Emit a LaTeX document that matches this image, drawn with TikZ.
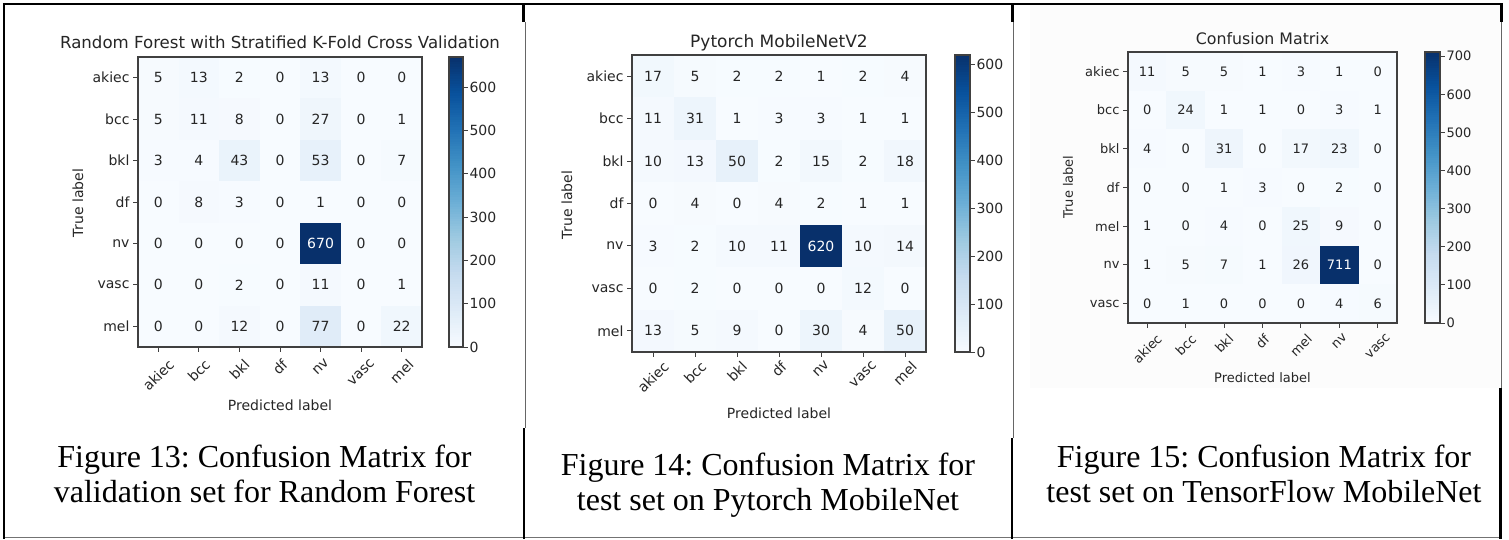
\documentclass[tikz,border=0pt]{standalone}
\usepackage{fontspec}
\setmainfont{Liberation Serif}
\newfontfamily\plotfont{DejaVu Sans}
\usepackage{graphicx}
\frenchspacing
\definecolor{B0}{HTML}{F7FBFF}
\definecolor{B1}{HTML}{DEEBF7}
\definecolor{B2}{HTML}{C6DBEF}
\definecolor{B3}{HTML}{9ECAE1}
\definecolor{B4}{HTML}{6BAED6}
\definecolor{B5}{HTML}{4292C6}
\definecolor{B6}{HTML}{2171B5}
\definecolor{B7}{HTML}{08519C}
\definecolor{B8}{HTML}{08306B}
\newcommand\setcmcolor[2]{%
  \pgfmathsetmacro\cmt{min(8*((#1)/(#2)),8)}%
  \pgfmathtruncatemacro\cmi{min(floor(\cmt),7)}%
  \pgfmathtruncatemacro\cmj{\cmi+1}%
  \pgfmathsetmacro\cmp{max(0,min(100,100*(\cmj-\cmt)))}%
  \colorlet{cellc}{B\cmi!\cmp!B\cmj}%
}
\tikzset{
  tickmark/.style={draw=black!75, line width=1pt},
  axframe/.style={draw=black!75, line width=1.1pt},
  tblthick/.style={draw=black, line width=2.3pt},
  tblthin/.style={draw=black!60, line width=1pt},
}
% #1 prefix, #2 labels, #3 data, #4 colorbar ticks, #5 title, #6 font size
\newcommand\cmpanel[6]{%
  \pgfmathsetmacro\cw{(\R-\L)/7}%
  \pgfmathsetmacro\ch{(\B-\T)/7}%
  \pgfmathsetmacro\cx{(\L+\R)/2}%
  \foreach \row [count=\i from 0] in {#3} {%
    \foreach \v [count=\j from 0] in \row {%
      \setcmcolor{\v}{\vmax}%
      \pgfmathtruncatemacro\isdark{\v>(\vmax/2)}%
      \ifnum\isdark=1 \def\tc{white}\else\def\tc{black!85}\fi
      \fill[cellc] (\L+\j*\cw,\T+\i*\ch) rectangle (\L+\j*\cw+\cw+0.4,\T+\i*\ch+\ch+0.4);
      \node[text=\tc, font=\plotfont\fontsize{#6}{#6}\selectfont] (#1-\i-\j) at (\L+\j*\cw+\cw/2,\T+\i*\ch+\ch/2) {\v};
    }
  }
  \draw[axframe] (\L,\T) rectangle (\R,\B);
  \foreach \lab [count=\i from 0] in {#2} {%
    \pgfmathsetmacro\yy{\T+\i*\ch+\ch/2}%
    \pgfmathsetmacro\xx{\L+\i*\cw+\cw/2}%
    \draw[tickmark] (\L,\yy) -- (\L-5,\yy);
    \node[anchor=east, text=black!85, font=\plotfont\fontsize{#6}{#6}\selectfont] (#1-r\i) at (\L-5,\yy) {\lab};
    \draw[tickmark] (\xx,\B) -- (\xx,\B+5);
    \node[anchor=north, inner sep=0pt, text=black!85, font=\plotfont\fontsize{#6}{#6}\selectfont] (#1-c\i) at (\xx,\collabtop) {\rotatebox{45}{\lab}};
  }
  \pgfmathsetmacro\sh{(\B-\T)/120}%
  \foreach \k in {0,...,119} {%
    \pgfmathsetmacro\vv{(\k+0.5)/120*\vmax}%
    \setcmcolor{\vv}{\vmax}%
    \pgfmathsetmacro\ya{\B-\k*\sh}%
    \pgfmathsetmacro\yb{\B-(\k+1)*\sh-0.5}%
    \fill[cellc] (\CL,\ya) rectangle (\CR,\yb);
  }
  \draw[axframe] (\CL,\T) rectangle (\CR,\B);
  \foreach \t in {#4} {%
    \pgfmathsetmacro\yy{\B-(\t/\vmax)*(\B-\T)}%
    \draw[tickmark] (\CR,\yy) -- (\CR+5,\yy);
    \node[anchor=west, text=black!85, font=\plotfont\fontsize{#6}{#6}\selectfont] (#1-cb\t) at (\CR+3,\yy) {\t};
  }
  \node[anchor=base, text=black!85, font=\plotfont\fontsize{\tsize}{\tsize}\selectfont] (#1-title) at (\cx,\titley) {#5};
  \node[rotate=90, text=black!85, font=\plotfont\fontsize{#6}{#6}\selectfont] (#1-ylab) at (\truex,\truey) {True label};
  \node[text=black!85, font=\plotfont\fontsize{#6}{#6}\selectfont] (#1-xlab) at (\cx,\predy) {Predicted label};
}
\begin{document}
\begin{tikzpicture}[x=1pt,y=-1pt]
\useasboundingbox (0,0) rectangle (1509,539);
\fill[white] (0,0) rectangle (1509,539);
\fill[fill=black!1.2] (1030,5) rectangle (1500,388);
% panel 1
\def\L{138}\def\T{57}\def\R{422}\def\B{347}\def\CL{449}\def\CR{463}\def\vmax{670}
\def\titley{48}\def\truex{78}\def\truey{203}\def\predy{405}\def\collabtop{358}\def\tsize{16.6}
\cmpanel{p1}{akiec,bcc,bkl,df,nv,vasc,mel}{{5,13,2,0,13,0,0},{5,11,8,0,27,0,1},{3,4,43,0,53,0,7},{0,8,3,0,1,0,0},{0,0,0,0,670,0,0},{0,0,2,0,11,0,1},{0,0,12,0,77,0,22}}{0,100,200,300,400,500,600}{Random Forest with Stratified K-Fold Cross Validation}{14}
% panel 2
\def\L{632}\def\T{55}\def\R{926}\def\B{352}\def\CL{955}\def\CR{970}\def\vmax{620}
\def\titley{47}\def\truex{567}\def\truey{205}\def\predy{413}\def\collabtop{360}\def\tsize{17}
\cmpanel{p2}{akiec,bcc,bkl,df,nv,vasc,mel}{{17,5,2,2,1,2,4},{11,31,1,3,3,1,1},{10,13,50,2,15,2,18},{0,4,0,4,2,1,1},{3,2,10,11,620,10,14},{0,2,0,0,0,12,0},{13,5,9,0,30,4,50}}{0,100,200,300,400,500,600}{Pytorch MobileNetV2}{14}
% panel 3
\def\L{1128}\def\T{52}\def\R{1397}\def\B{323}\def\CL{1425}\def\CR{1440}\def\vmax{711}
\def\titley{44}\def\truex{1068}\def\truey{187}\def\predy{378}\def\collabtop{333}\def\tsize{15.8}
\cmpanel{p3}{akiec,bcc,bkl,df,mel,nv,vasc}{{11,5,5,1,3,1,0},{0,24,1,1,0,3,1},{4,0,31,0,17,23,0},{0,0,1,3,0,2,0},{1,0,4,0,25,9,0},{1,5,7,1,26,711,0},{0,1,0,0,0,4,6}}{0,100,200,300,400,500,600,700}{Confusion Matrix}{13}
% captions
\begin{scope}[every node/.style={anchor=base, font=\fontsize{32}{35}\selectfont}]
\node (cap1a) at (264.5,467) {Figure 13: Confusion Matrix for};
\node (cap1b) at (264.5,502) {validation set for Random Forest};
\node (cap2a) at (768,475) {Figure 14: Confusion Matrix for};
\node (cap2b) at (768,510) {test set on Pytorch MobileNet};
\node (cap3a) at (1264,467) {Figure 15: Confusion Matrix for};
\node (cap3b) at (1264,502) {test set on TensorFlow MobileNet};
\end{scope}
% table rules
\draw[draw=black!55, line width=1.5pt] (4,537.5) -- (1502,537.5);
\draw[tblthick] (2.9,4) -- (1502.6,4);
\draw[tblthick] (4,3) -- (4,538.5);
\draw[tblthick] (523.5,3) -- (523.5,22);
\draw[tblthin] (525,22) -- (525,428);
\draw[tblthick] (524,428) -- (524,538.5);
\draw[tblthick] (1012.5,3) -- (1012.5,22);
\draw[tblthin] (1013.3,22) -- (1013.3,438);
\draw[tblthick] (1012,438) -- (1012,538.5);
\draw[tblthick] (1501.5,3) -- (1501.5,22);
\draw[tblthin] (1501,22) -- (1501,388);
\draw[tblthick] (1500.5,388) -- (1500.5,538.5);
\end{tikzpicture}
\end{document}
